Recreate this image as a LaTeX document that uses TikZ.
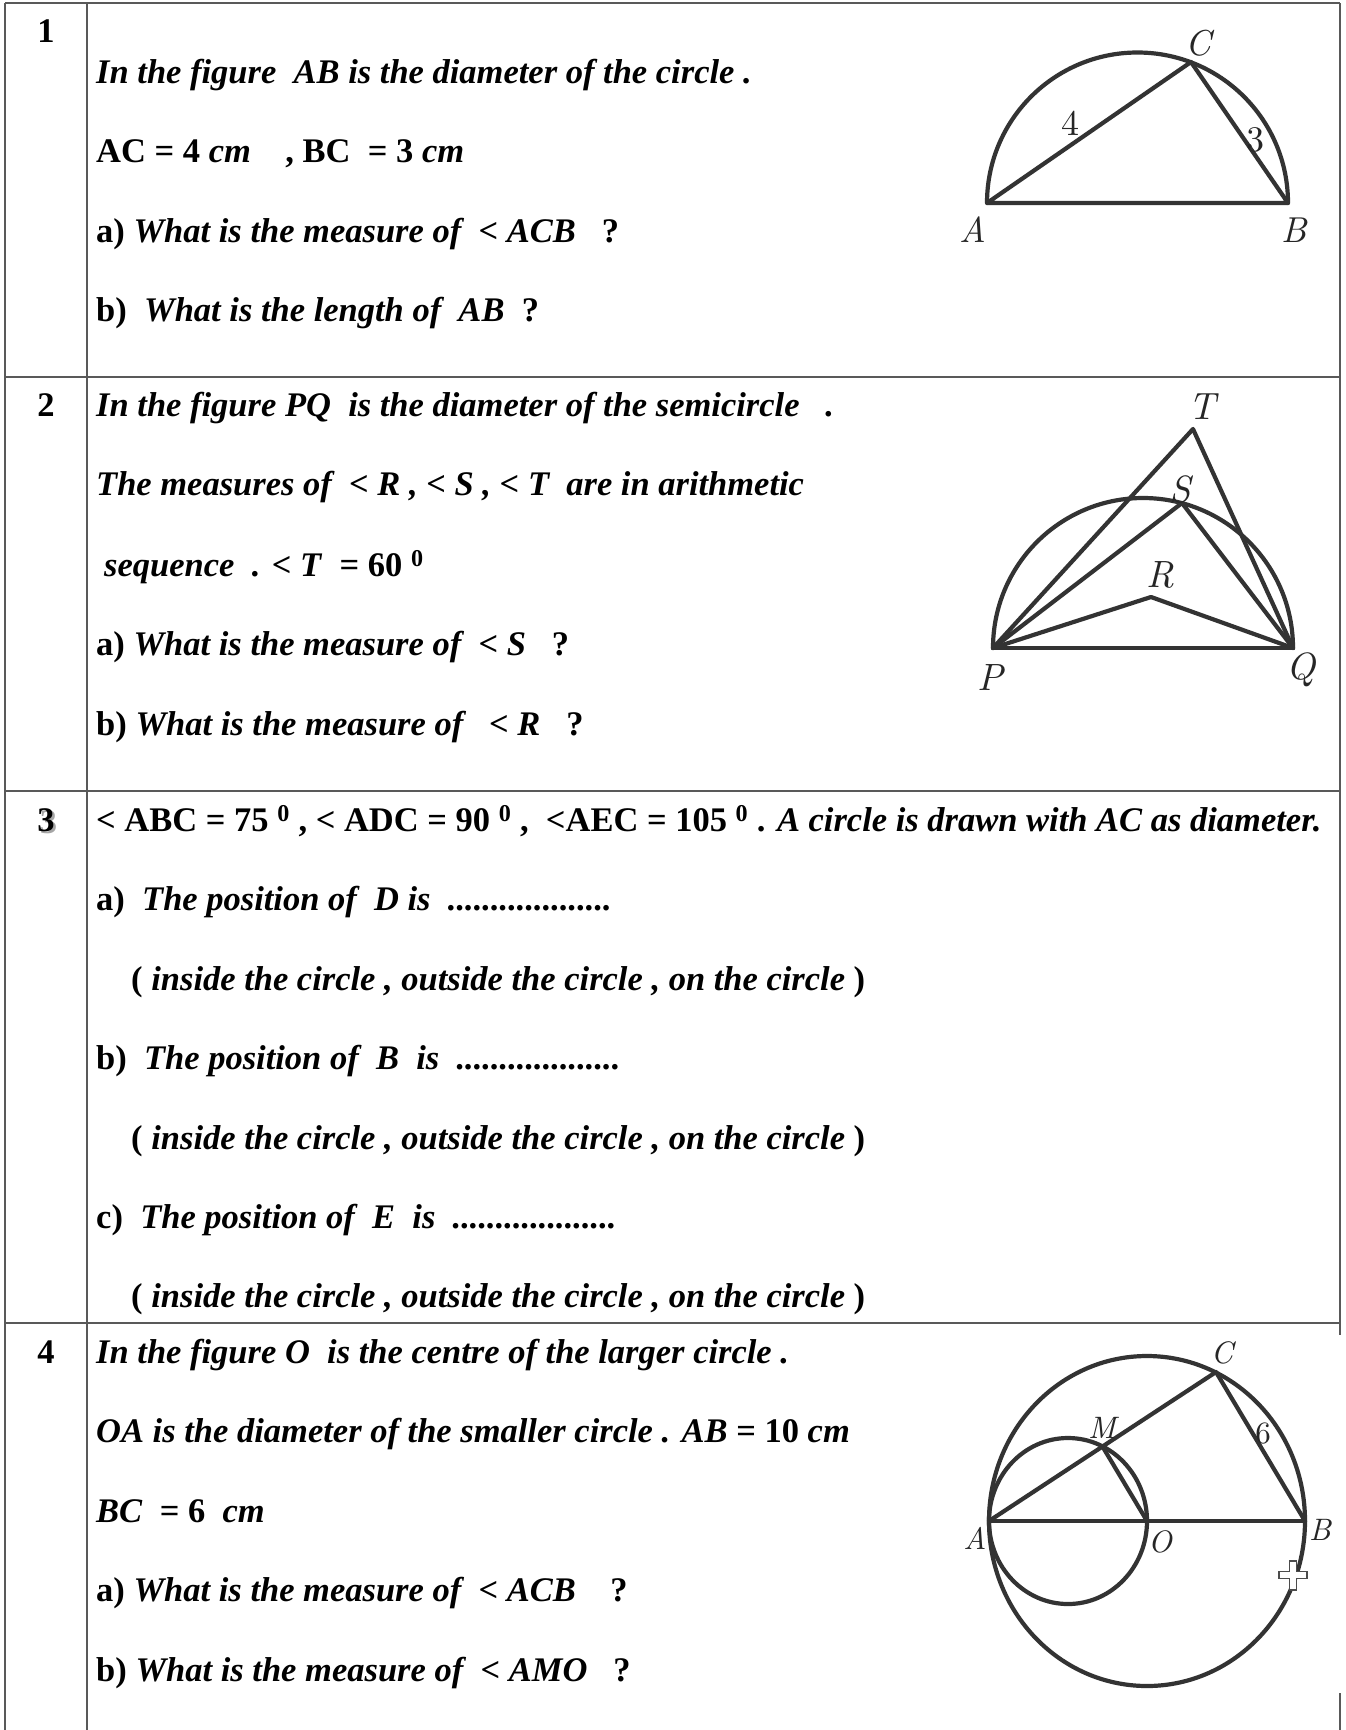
\documentclass[tikz,border=0pt]{standalone}
\usepackage{fontspec}
\setmainfont{Liberation Serif}
\newfontfamily\lmrfont{lmroman10-regular.otf}[ItalicFont=lmroman10-italic.otf]
\begin{document}
\begin{tikzpicture}[x=1pt,y=-1pt,
  txt/.style={anchor=base west, inner sep=0pt, font=\fontsize{34.5}{41}\selectfont\bfseries},
  num/.style={anchor=base, inner sep=0pt, font=\fontsize{34.5}{41}\selectfont\bfseries},
  gridline/.style={line width=1.6pt, draw=black!65},
  geo/.style={line width=4.2pt, draw=black!80, line join=round, line cap=round},
  lbl/.style={inner sep=0pt, font=\lmrfont\fontsize{36}{40}\selectfont, text=black!85},
  lblb/.style={inner sep=0pt, font=\lmrfont\fontsize{38}{42}\selectfont, text=black!85},
  lbls/.style={inner sep=0pt, font=\lmrfont\fontsize{31}{35}\selectfont, text=black!85}]
\useasboundingbox (0,0) rectangle (1346,1730);
\fill[white] (0,0) rectangle (1346,1730);

% table grid
\draw[gridline] (5,3) -- (1340,3);
\draw[gridline] (5,3) -- (5,1730);
\draw[gridline] (87,3) -- (87,1730);
\draw[gridline] (1340,3) -- (1340,1335);
\draw[gridline] (1340,1693) -- (1340,1730);
\draw[gridline] (5,377) -- (1340,377);
\draw[gridline] (5,791) -- (1340,791);
\draw[gridline] (5,1323) -- (1340,1323);

% numbers
\node[num] (n1) at (46,42) {1};
\node[num] (n2) at (46,416) {2};
\node[num, text=black!35] (n3s) at (48.5,833.5) {3};
\node[num] (n3) at (46,831) {3};
\node[num] (n4) at (46,1363) {4};

% row 1
\node[txt] (r1a) at (96,83) {\itshape In the figure\ \ AB is the diameter of the circle .};
\node[txt] (r1b) at (96,162) {AC = 4 \textit{cm}\ \ \ \ , BC\ \ = 3 \textit{cm}};
\node[txt] (r1c) at (96,242) {a) \textit{What is the measure of\ \ < ACB}\ \ \ ?};
\node[txt] (r1d) at (96,321) {b)\ \ \textit{What is the length of\ \ AB}\ \ ?};

% row 2
\node[txt] (r2a) at (96,416) {\itshape In the figure PQ\ \ is the diameter of the semicircle\ \ \ .};
\node[txt] (r2b) at (96,495) {\itshape The measures of\ \ < R , < S , < T\ \ are in arithmetic};
\node[txt] (r2c) at (104,576) {\textit{sequence\ \ . < T}\ \ = 60 \textsuperscript{0}};
\node[txt] (r2d) at (96,655) {a) \textit{What is the measure of\ \ < S}\ \ \ ?};
\node[txt] (r2e) at (96,735) {b) \textit{What is the measure of\ \ \ < R}\ \ \ ?};

% row 3
\node[txt] (r3a) at (96,831) {< ABC = 75 \textsuperscript{0}\ , < ADC = 90 \textsuperscript{0}\ ,\ \ <AEC = 105 \textsuperscript{0}\ . \textit{A circle is drawn with AC as diameter.}};
\node[txt] (r3b) at (96,910) {a)\ \ \textit{The position of\ \ D is\ \ ...................}};
\node[txt] (r3c) at (131,990) {( \textit{inside the circle , outside the circle , on the circle} )};
\node[txt] (r3d) at (96,1069) {b)\ \ \textit{The position of\ \ B\ \ is\ \ ...................}};
\node[txt] (r3e) at (131,1149) {( \textit{inside the circle , outside the circle , on the circle} )};
\node[txt] (r3f) at (96,1228) {c)\ \ \textit{The position of\ \ E\ \ is\ \ ...................}};
\node[txt] (r3g) at (131,1307) {( \textit{inside the circle , outside the circle , on the circle} )};

% row 4
\node[txt] (r4a) at (96,1363) {\itshape In the figure O\ \ is the centre of the larger circle .};
\node[txt] (r4b) at (96,1442) {\textit{OA is the diameter of the smaller circle . AB} = 10 \textit{cm}};
\node[txt] (r4c) at (96,1522) {\textit{BC}\ \ = 6\ \ \textit{cm}};
\node[txt] (r4d) at (96,1601) {a) \textit{What is the measure of\ \ < ACB}\ \ \ \ ?};
\node[txt] (r4e) at (96,1681) {b) \textit{What is the measure of\ \ < AMO}\ \ \ ?};

% figure 1
\coordinate (A1) at (987,203);
\coordinate (B1) at (1288,203);
\coordinate (C1) at (1191,62);
\draw[geo] (A1) arc[start angle=180, end angle=360, radius=150.5];
\draw[geo] (A1) -- (B1) -- (C1) -- cycle;
\node[lbl] (lA1) at (973,230) {\itshape A};
\node[lbl] (lB1) at (1294,230) {\itshape B};
\node[lbl] (lC1) at (1198,43) {\itshape C};
\node[lbl] (l41) at (1070,123) {4};
\node[lbl] (l31) at (1255,140) {3};

% figure 2
\coordinate (P2) at (993,648);
\coordinate (Q2) at (1293,648);
\coordinate (T2) at (1193,429);
\coordinate (S2) at (1182,503);
\coordinate (R2) at (1151,597);
\draw[geo] (P2) arc[start angle=180, end angle=360, radius=150];
\draw[geo] (P2) -- (Q2);
\draw[geo] (P2) -- (T2) -- (Q2);
\draw[geo] (P2) -- (S2) -- (Q2);
\draw[geo] (P2) -- (R2) -- (Q2);
\node[lblb] (lT2) at (1202,407) {\itshape T};
\node[lblb] (lS2) at (1180,490) {\itshape S};
\node[lblb] (lR2) at (1160,575) {\itshape R};
\node[lblb] (lP2) at (990,678) {\itshape P};
\node[lblb] (lQ2) at (1301,670) {\itshape Q};

% figure 3
\coordinate (O3) at (1147,1521);
\coordinate (A3) at (989,1521);
\coordinate (B3) at (1305,1521);
\coordinate (C3) at (1216,1372);
\coordinate (M3) at (1102.5,1446.5);
\draw[geo] (O3) ellipse[x radius=158, y radius=165];
\draw[geo] (1068,1521) ellipse[x radius=79, y radius=83];
\draw[geo] (A3) -- (B3);
\draw[geo] (A3) -- (C3) -- (B3);
\draw[geo] (M3) -- (O3);
\node[lbls] (lC3) at (1222,1353) {\itshape C};
\node[lbls] (lM3) at (1102,1428) {\itshape M};
\node[lbls] (l63) at (1263,1433) {6};
\node[lbls] (lA3) at (975,1538) {\itshape A};
\node[lbls] (lO3) at (1160,1542) {\itshape O};
\node[lbls] (lB3) at (1320,1530) {\itshape B};
% cursor mark
\draw[black!70, line width=1.2pt, fill=white]
  (1289.5,1561) -- (1296.5,1561) -- (1296.5,1571.5) -- (1307,1571.5) -- (1307,1578.5)
  -- (1296.5,1578.5) -- (1296.5,1590) -- (1289.5,1590) -- (1289.5,1578.5) -- (1279,1578.5)
  -- (1279,1571.5) -- (1289.5,1571.5) -- cycle;
\end{tikzpicture}
\end{document}
